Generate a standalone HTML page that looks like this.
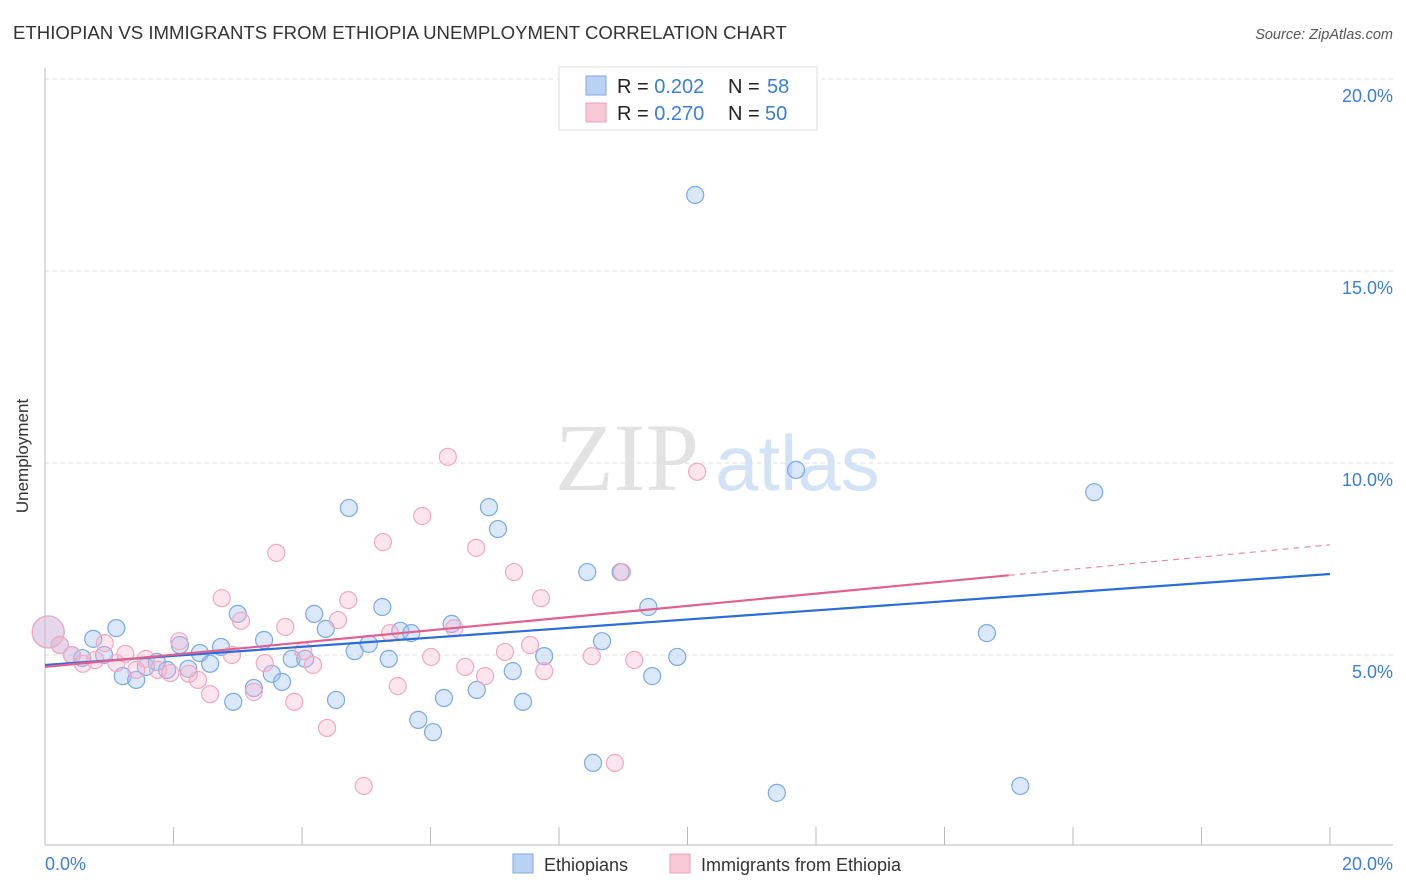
<!DOCTYPE html>
<html><head><meta charset="utf-8">
<style>
body{margin:0;background:#fff;font-family:"Liberation Sans",sans-serif;}
svg{display:block}
</style></head>
<body>
<svg id="chart" width="1406" height="892" viewBox="0 0 1406 892" xmlns="http://www.w3.org/2000/svg">
<text x="13" y="39" font-size="18.6" fill="#333">ETHIOPIAN VS IMMIGRANTS FROM ETHIOPIA UNEMPLOYMENT CORRELATION CHART</text>
<text x="1393" y="39" font-size="14.5" fill="#555" font-style="italic" text-anchor="end">Source: ZipAtlas.com</text>
<g id="grid"></g>
<g id="watermark">
<text x="555" y="490" font-family="Liberation Serif,serif" font-size="96" fill="#e2e2e2">ZIP</text>
<text x="715" y="490" font-size="78" fill="#d3e3f5">atlas</text>
</g>
<line x1="45" y1="68" x2="45" y2="845" stroke="#bbb"/>
<line x1="45" y1="845" x2="1393" y2="845" stroke="#bbb"/>
<g id="xticks"></g>
<text x="28" y="456" font-size="17" fill="#333" text-anchor="middle" transform="rotate(-90 28 456)">Unemployment</text>
<text x="45" y="870" font-size="18" fill="#3b7dd8">0.0%</text>
<text x="1393" y="870" font-size="18" fill="#3b7dd8" text-anchor="end">20.0%</text>
<g id="ylabels"></g>
<g id="points"></g>
<g id="lines"></g>
<g>
<rect x="559" y="67" width="258" height="63" fill="#fff" stroke="#ddd"/>
<rect x="586" y="76" width="20" height="19" fill="#b9d2f3" stroke="#7fa8e0"/>
<rect x="586" y="103" width="20" height="19" fill="#f9c9d8" stroke="#eea0b8"/>
<text x="617" y="93" font-size="20" fill="#222">R = <tspan fill="#3b7dd8">0.202</tspan><tspan x="728">N = </tspan><tspan x="767" fill="#3b7dd8">58</tspan></text>
<text x="617" y="120" font-size="20" fill="#222">R = <tspan fill="#3b7dd8">0.270</tspan><tspan x="728">N = </tspan><tspan x="765" fill="#3b7dd8">50</tspan></text>
</g>
<g>
<rect x="513" y="854" width="20" height="19" fill="#b9d2f3" stroke="#7fa8e0"/>
<text x="544" y="871" font-size="18" fill="#333">Ethiopians</text>
<rect x="670" y="854" width="20" height="19" fill="#f9c9d8" stroke="#eea0b8"/>
<text x="701" y="871" font-size="18" fill="#333">Immigrants from Ethiopia</text>
</g>
</svg>
<script>
const yTicks=[5,10,15,20];
const yTickLabels=["5.0%","10.0%","15.0%","20.0%"];
const blueX=[0.05,0.23,0.42,0.58,0.75,0.92,1.11,1.21,1.42,1.57,1.74,1.90,2.10,2.23,2.41,2.57,2.74,2.93,3.00,3.25,3.41,3.53,3.69,3.84,4.05,4.19,4.37,4.53,4.73,4.82,5.04,5.25,5.35,5.53,5.70,5.81,6.04,6.21,6.33,6.72,6.91,7.05,7.28,7.44,7.77,8.44,8.53,8.67,8.96,9.39,9.45,9.84,10.12,11.39,11.69,14.66,15.18,16.33];
const blueY=[5.60,5.26,5.00,4.92,5.42,5.00,5.70,4.45,4.35,4.69,4.82,4.61,5.26,4.64,5.05,4.77,5.21,3.78,6.07,4.14,5.39,4.51,4.30,4.90,4.90,6.07,5.68,3.83,8.83,5.10,5.29,6.25,4.90,5.63,5.57,3.31,2.99,3.88,5.81,4.09,8.85,8.28,4.58,3.78,4.97,7.16,2.19,5.36,7.16,6.25,4.45,4.95,16.98,1.41,9.82,5.57,1.59,9.24];
const pinkX=[0.05,0.23,0.42,0.59,0.78,0.93,1.11,1.25,1.42,1.57,1.76,1.95,2.09,2.24,2.38,2.57,2.75,2.91,3.05,3.25,3.42,3.60,3.74,3.88,4.02,4.17,4.39,4.56,4.72,4.96,5.26,5.37,5.49,5.87,6.01,6.27,6.37,6.54,6.71,6.85,7.16,7.30,7.55,7.72,7.77,8.51,8.87,8.98,9.17,10.15];
const pinkY=[5.60,5.26,5.00,4.77,4.87,5.31,4.79,5.03,4.61,4.90,4.61,4.53,5.36,4.51,4.35,3.98,6.48,5.00,5.89,4.04,4.79,7.66,5.73,3.78,5.10,4.74,3.10,5.91,6.43,1.59,7.94,5.57,4.19,8.62,4.95,10.16,5.70,4.69,7.79,4.45,5.08,7.16,5.26,6.48,4.58,4.97,2.19,7.16,4.87,9.77];
const blueTrend=[4.74,0.1185];
const pinkTrend=[4.69,0.159];
const pinkSolidEnd=15;

const NS="http://www.w3.org/2000/svg";
const xS=v=>45+v*(1285/20);
const yS=v=>847-v*38.4;
function mk(tag,attrs,parent){const e=document.createElementNS(NS,tag);for(const k in attrs)e.setAttribute(k,attrs[k]);parent.appendChild(e);return e;}
const grid=document.getElementById('grid'),yl=document.getElementById('ylabels'),xt=document.getElementById('xticks');
yTicks.forEach((t,i)=>{
 const l=mk('line',{x1:45,x2:1393,y1:yS(t),y2:yS(t),stroke:'#ddd','stroke-dasharray':'4,4'},grid);
 
 
 const tx=mk('text',{x:1393,y:yS(t)+23,'font-size':18,fill:'#3b7dd8','text-anchor':'end'},yl);
 tx.textContent=yTickLabels[i];
 
 
});
for(let i=1;i<=10;i++){
 const l=mk('line',{x1:xS(i*2),x2:xS(i*2),y1:827,y2:845,stroke:'#bbb'},xt);
 
 
}
const pts=document.getElementById('points');
function drawPts(xs,ys,fill,stroke,name){
 xs.forEach((x,i)=>{
  const r=i===0?16:8.5;
  const c=mk('circle',{cx:xS(x),cy:yS(ys[i]),r:r,fill:fill,stroke:stroke,'stroke-width':1.2},pts);
  
  
 });
}
drawPts(blueX,blueY,'rgba(150,190,240,0.35)','#7aa9e6','ethiopians-point');
drawPts(pinkX,pinkY,'rgba(248,180,205,0.35)','#f0a8c0','immigrants-point');
const lines=document.getElementById('lines');
const bl=mk('line',{x1:xS(0),y1:yS(blueTrend[0]),x2:xS(20),y2:yS(blueTrend[0]+blueTrend[1]*20),stroke:'#2a6dd6','stroke-width':2.2},lines);


const pl=mk('line',{x1:xS(0),y1:yS(pinkTrend[0]),x2:xS(pinkSolidEnd),y2:yS(pinkTrend[0]+pinkTrend[1]*pinkSolidEnd),stroke:'#e0608f','stroke-width':2.2},lines);


const pd=mk('line',{x1:xS(pinkSolidEnd),y1:yS(pinkTrend[0]+pinkTrend[1]*pinkSolidEnd),x2:xS(20),y2:yS(pinkTrend[0]+pinkTrend[1]*20),stroke:'#e88aab','stroke-width':1.2,'stroke-dasharray':'6,5'},lines);


</script>
</body></html>
